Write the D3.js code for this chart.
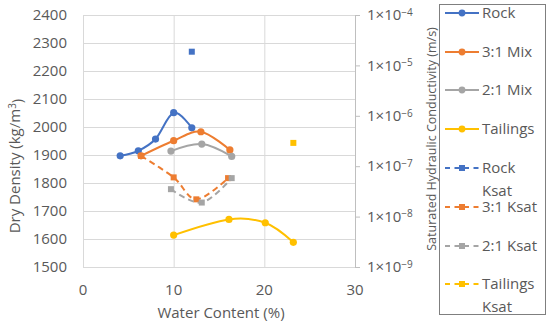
<!DOCTYPE html>
<html>
<head>
<meta charset="utf-8">
<script src="https://cdn.jsdelivr.net/npm/d3@7"></script>
<style>
  body { margin: 0; background: #fff; }
  text { font-family: "Open Sans", sans-serif; fill: #595959; }
</style>
</head>
<body>
<svg id="chart" width="550" height="326"></svg>
<script>
// water content (%) / dry density (kg/m3)
var rockW = [4.1, 6.1, 8.0, 10.0, 12.0];
var rockD = [1897, 1915, 1957, 2051, 1997];
var mix31W = [6.4, 10.0, 13.0, 16.2];
var mix31D = [1897, 1951, 1983, 1918];
var mix21W = [9.7, 13.1, 16.4];
var mix21D = [1914, 1939, 1895];
var tailW = [10.0, 16.1, 20.1, 23.2];
var tailD = [1614, 1670, 1658, 1588];

// water content (%) / saturated hydraulic conductivity (m/s)
var rockKW = [12.0];
var rockK = [1.87e-5];
var mix31KW = [6.4, 10.0, 12.5, 16.0];
var mix31K = [1.6e-7, 6.0e-8, 2.2e-8, 5.8e-8];
var mix21KW = [9.7, 13.1, 16.4];
var mix21K = [3.5e-8, 1.9e-8, 5.8e-8];
var tailKW = [23.2];
var tailK = [2.9e-7];

var xTicks = [0, 10, 20, 30];
var yTicks = [1500, 1600, 1700, 1800, 1900, 2000, 2100, 2200, 2300, 2400];
var kTicks = [1e-4, 1e-5, 1e-6, 1e-7, 1e-8, 1e-9];
var kTickExp = ["\u22124", "\u22125", "\u22126", "\u22127", "\u22128", "\u22129"];

var legendNames = ["Rock", "3:1 Mix", "2:1 Mix", "Tailings", "Rock|Ksat", "3:1 Ksat", "2:1 Ksat", "Tailings|Ksat"];

var blue = "#4472C4", orange = "#ED7D31", grey = "#A5A5A5", gold = "#FFC000";

var svg = d3.select("#chart");
var plotL = 83, plotR = 355, plotT = 15, plotB = 267;

var x = d3.scaleLinear().domain([0, 30]).range([plotL, plotR]);
var y = d3.scaleLinear().domain([1500, 2400]).range([plotB, plotT]);
var yk = d3.scaleLog().domain([1e-9, 1e-4]).range([plotB, plotT]);

// gridlines
svg.append("g").selectAll("line").data(yTicks).enter().append("line")
  .attr("x1", plotL).attr("x2", plotR)
  .attr("y1", d => y(d) + 0.5).attr("y2", d => y(d) + 0.5)
  .attr("stroke", "#d9d9d9").attr("stroke-width", 1);
svg.append("g").selectAll("line").data(xTicks).enter().append("line")
  .attr("x1", d => x(d) + 0.5).attr("x2", d => x(d) + 0.5)
  .attr("y1", plotT).attr("y2", plotB)
  .attr("stroke", "#d9d9d9").attr("stroke-width", 1);

// right axis line + ticks
svg.append("line").attr("x1", plotR + 0.5).attr("x2", plotR + 0.5)
  .attr("y1", plotT).attr("y2", plotB).attr("stroke", "#bfbfbf");
svg.append("g").selectAll("line").data(kTicks).enter().append("line")
  .attr("x1", plotR).attr("x2", plotR + 5)
  .attr("y1", d => yk(d) + 0.5).attr("y2", d => yk(d) + 0.5)
  .attr("stroke", "#bfbfbf");

// tick labels
svg.append("g").selectAll("text").data(yTicks).enter().append("text")
  .attr("x", 67).attr("y", d => y(d)).attr("dy", "0.35em")
  .attr("text-anchor", "end").style("font-size", "15px")
  .text(d => d);
svg.append("g").selectAll("text").data(xTicks).enter().append("text")
  .attr("x", d => x(d)).attr("y", 295)
  .attr("text-anchor", "middle").style("font-size", "15px")
  .text(d => d);
var kl = svg.append("g").selectAll("text").data(kTicks).enter().append("text")
  .attr("x", 367).attr("y", d => yk(d)).attr("dy", "0.35em")
  .style("font-size", "15px");
kl.append("tspan").text("1\u00d710");
kl.append("tspan").attr("dy", "-0.45em").style("font-size", "10px")
  .text((d, i) => kTickExp[i]);

// axis titles
svg.append("text").attr("x", 221).attr("y", 318)
  .attr("text-anchor", "middle").style("font-size", "15px")
  .text("Water Content (%)");
var lt = svg.append("text")
  .attr("transform", "translate(20,166) rotate(-90)")
  .attr("text-anchor", "middle").style("font-size", "15px");
lt.append("tspan").text("Dry Density (kg/m");
lt.append("tspan").attr("dy", "-0.4em").style("font-size", "10px").text("3");
lt.append("tspan").attr("dy", "0.4em").text(")");
svg.append("text")
  .attr("transform", "translate(436,139) rotate(-90)")
  .attr("text-anchor", "middle").style("font-size", "12.5px")
  .text("Saturated Hydraulic Conductivity (m/s)");

var curve = d3.curveCardinal.tension(0);

function drawLine(xs, ys, scale, color, dashed) {
  var pts = xs.map((d, i) => [x(d), scale(ys[i])]);
  if (pts.length > 1) {
    svg.append("path")
      .attr("d", d3.line().curve(curve)(pts))
      .attr("fill", "none").attr("stroke", color).attr("stroke-width", 2)
      .attr("stroke-dasharray", dashed ? "6,4" : null);
  }
  svg.append("g").selectAll(".m").data(pts).enter().append(dashed ? "rect" : "circle")
    .each(function (p) {
      var s = d3.select(this);
      if (dashed) s.attr("x", p[0] - 3).attr("y", p[1] - 3).attr("width", 6).attr("height", 6);
      else s.attr("cx", p[0]).attr("cy", p[1]).attr("r", 3.6);
    })
    .attr("fill", color);
}

drawLine(rockW, rockD, y, blue, false);
drawLine(mix31W, mix31D, y, orange, false);
drawLine(mix21W, mix21D, y, grey, false);
drawLine(tailW, tailD, y, gold, false);
drawLine(rockKW, rockK, yk, blue, true);
drawLine(mix31KW, mix31K, yk, orange, true);
drawLine(mix21KW, mix21K, yk, grey, true);
drawLine(tailKW, tailK, yk, gold, true);

// legend
var colors = [blue, orange, grey, gold, blue, orange, grey, gold];
svg.append("rect").attr("x", 439.5).attr("y", 4.5).attr("width", 106).attr("height", 310)
  .attr("fill", "#fff").attr("stroke", "#7f7f7f").attr("stroke-width", 1);
var rows = [13, 52, 90, 129, 168, 207, 246, 284];
var lg = svg.append("g").selectAll("g").data(legendNames).enter().append("g")
  .attr("transform", (d, i) => "translate(0," + rows[i] + ")");
lg.append("line").attr("x1", 445).attr("x2", 479).attr("y1", 0).attr("y2", 0)
  .attr("stroke", (d, i) => colors[i]).attr("stroke-width", 2)
  .attr("stroke-dasharray", (d, i) => i > 3 ? "5,4.5" : null);
lg.each(function (d, i) {
  var g = d3.select(this);
  if (i > 3) g.append("rect").attr("x", 459).attr("y", -3).attr("width", 6).attr("height", 6).attr("fill", colors[i]);
  else g.append("circle").attr("cx", 462).attr("cy", 0).attr("r", 3.4).attr("fill", colors[i]);
  var parts = d.split("|");
  parts.forEach(function (p, j) {
    g.append("text").attr("x", 482).attr("y", j * 23).attr("dy", "0.35em")
      .style("font-size", "15px").text(p);
  });
});
</script>
</body>
</html>
